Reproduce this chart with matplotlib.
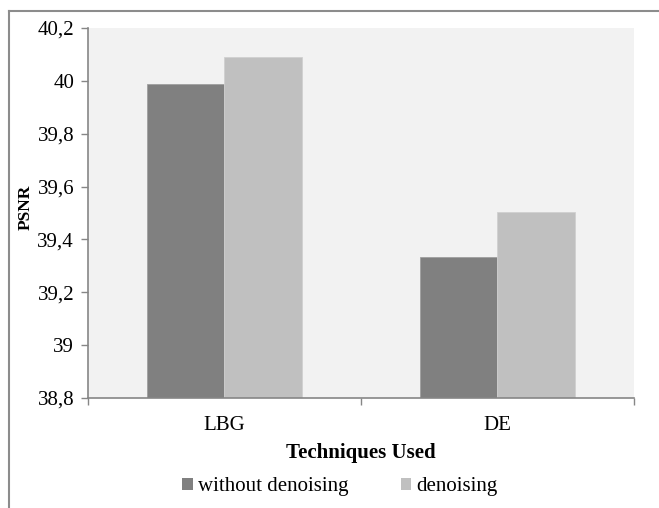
import matplotlib
matplotlib.use("Agg")
import matplotlib.pyplot as plt
import numpy as np
from matplotlib.lines import Line2D
from matplotlib.patches import Patch
from matplotlib.ticker import FuncFormatter, FixedLocator

plt.rcParams["font.family"] = ["Liberation Serif", "DejaVu Serif"]

# data
techniques = ["LBG", "DE"]
without_denoising = [39.988, 39.335]
denoising = [40.09, 39.505]
series_names = ["without denoising", "denoising"]
colors = ["#808080", "#C0C0C0"]

fig = plt.figure(figsize=(6.59, 5.08), dpi=100)
ax = fig.add_axes([88 / 659, 1 - 398 / 508, (633.5 - 88) / 659, (398 - 28) / 508])
ax.set_facecolor("#F2F2F2")

x = np.arange(len(techniques))
w = 0.284
ax.bar(x - w / 2, without_denoising, w, color=colors[0], edgecolor="#A0A0A0", linewidth=0.6)
ax.bar(x + w / 2, denoising, w, color=colors[1], edgecolor="#D0D0D0", linewidth=0.6)

ax.set_ylim(38.8, 40.2)
ax.set_yticks(np.arange(38.8, 40.21, 0.2))
ax.yaxis.set_major_formatter(FuncFormatter(lambda v, p: "{:g}".format(round(v, 1)).replace(".", ",")))
ax.set_xlim(-0.5, len(techniques) - 0.5)
ax.set_xticks(x)
ax.set_xticklabels(techniques)
ax.xaxis.set_minor_locator(FixedLocator(np.arange(-0.5, len(techniques), 1.0)))

ax.tick_params(axis="x", which="major", length=0, pad=13, labelsize=15, colors="black")
ax.tick_params(axis="x", which="minor", length=5, color="#868686", width=1)
ax.tick_params(axis="y", length=5, color="#868686", width=1, labelsize=15, pad=5)

for s in ["top", "right"]:
    ax.spines[s].set_visible(False)
for s in ["left", "bottom"]:
    ax.spines[s].set_color("#868686")
    ax.spines[s].set_linewidth(1.2)

ax.set_ylabel("PSNR", fontsize=12.5, fontweight="bold")
ax.yaxis.set_label_coords(-0.1, 0.515)
ax.set_xlabel("Techniques Used", fontsize=15, fontweight="bold", labelpad=6)

handles = [Patch(facecolor=c, edgecolor="none") for c in colors]
fig.legend(handles, series_names, loc="center", bbox_to_anchor=(340 / 659, 1 - 487 / 508),
           ncol=2, frameon=False, fontsize=15, handlelength=0.5, handleheight=0.5,
           handletextpad=0.25, columnspacing=2.5, borderpad=0)

# outer chart border (left and top edges visible)
fig.add_artist(Line2D([9 / 659, 9 / 659], [0, 1 - 11 / 508], color="#8C8C8C", linewidth=1.5))
fig.add_artist(Line2D([9 / 659, 1], [1 - 11 / 508, 1 - 11 / 508], color="#8C8C8C", linewidth=1.5))

fig.savefig("out.png", dpi=100)
